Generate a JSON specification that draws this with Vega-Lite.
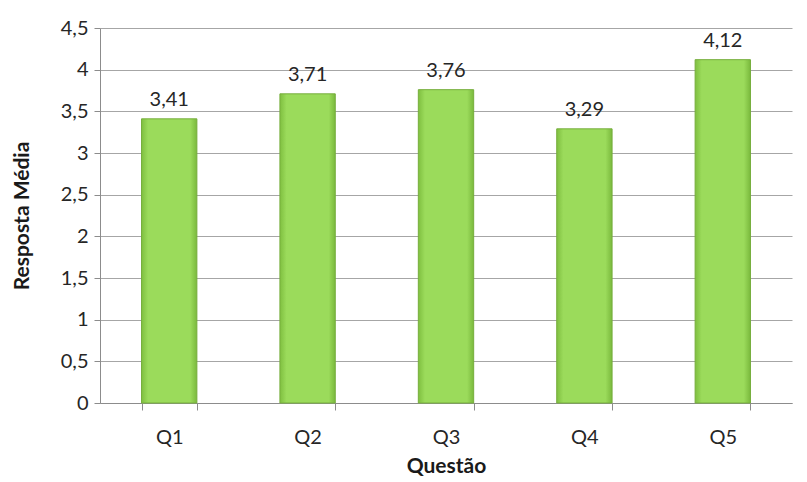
{
  "$schema": "https://vega.github.io/schema/vega-lite/v6.json",
  "autosize": {"type": "none"},
  "padding": {"left": 100, "top": 28, "right": 15, "bottom": 79},
  "width": 692,
  "height": 375,
  "background": "white",
  "config": {
    "locale": {"number": {"decimal": ",", "thousands": ".", "grouping": [3], "currency": ["R$", ""]}},
    "font": "Lato",
    "view": {"stroke": null},
    "axis": {"labelFont": "Lato", "titleFont": "Lato", "labelColor": "#262626", "titleColor": "#1a1a1a"}
  },
  "data": {
    "values": [
      {"questao": "Q1", "media": 3.41},
      {"questao": "Q2", "media": 3.71},
      {"questao": "Q3", "media": 3.76},
      {"questao": "Q4", "media": 3.29},
      {"questao": "Q5", "media": 4.12}
    ]
  },
  "encoding": {
    "x": {
      "field": "questao",
      "type": "nominal",
      "sort": null,
      "scale": {"paddingInner": 0.6, "paddingOuter": 0.3},
      "axis": {
        "title": "Questão",
        "titleFontSize": 21,
        "titleFontWeight": "bold",
        "titlePadding": 8,
        "labelAngle": 0,
        "labelFontSize": 20,
        "labelPadding": 17,
        "tickBand": "extent",
        "tickSize": 7,
        "tickColor": "#8c8c8c",
        "domainColor": "#8c8c8c",
        "grid": false
      }
    },
    "y": {
      "field": "media",
      "type": "quantitative",
      "scale": {"domain": [0, 4.5], "nice": false},
      "axis": {
        "title": "Resposta Média",
        "titleFontSize": 21,
        "titleFontWeight": "bold",
        "titlePadding": 28,
        "values": [0, 0.5, 1, 1.5, 2, 2.5, 3, 3.5, 4, 4.5],
        "format": ".1~f",
        "labelFontSize": 20,
        "labelPadding": 6,
        "tickSize": 6,
        "tickColor": "#8c8c8c",
        "domainColor": "#8c8c8c",
        "gridColor": "#a6a6a6",
        "gridWidth": 1
      }
    }
  },
  "layer": [
    {
      "mark": {
        "type": "bar",
        "stroke": "#76ae3c",
        "strokeWidth": 1,
        "fill": {
          "gradient": "linear",
          "x1": 0, "x2": 1, "y1": 0, "y2": 0,
          "stops": [
            {"offset": 0, "color": "#7fbf40"},
            {"offset": 0.12, "color": "#9bdb5b"},
            {"offset": 0.88, "color": "#9bdb5b"},
            {"offset": 1, "color": "#7ab93d"}
          ]
        }
      }
    },
    {
      "mark": {"type": "text", "baseline": "bottom", "dy": -9, "fontSize": 20, "color": "#262626"},
      "encoding": {"text": {"field": "media", "type": "quantitative", "format": ".2f"}}
    }
  ]
}
